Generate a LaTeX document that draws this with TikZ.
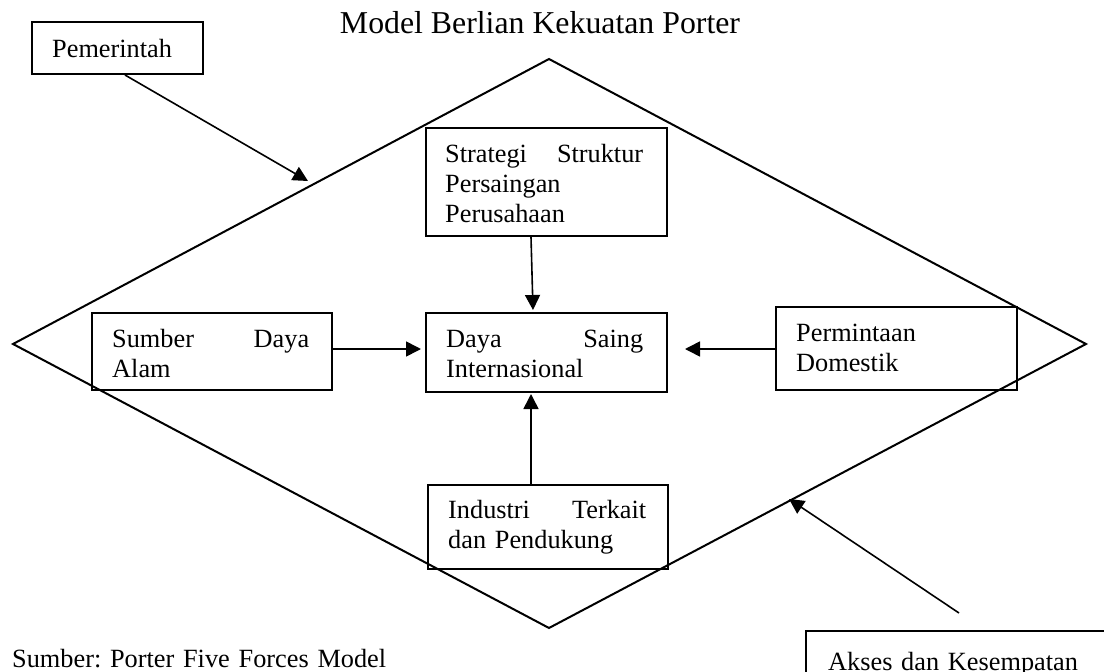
\documentclass[tikz,border=0pt]{standalone}
\usepackage{fontspec}
\setmainfont{Liberation Serif}
\usetikzlibrary{arrows.meta,calc}

\tikzset{
  box/.style={draw=black, line width=2pt, rectangle, inner sep=0pt, anchor=north west},
  txt/.style={inner sep=0pt, anchor=base west, text width=200pt, align=left,
              font=\fontsize{26.3}{30.3}\selectfont\frenchspacing},
  rim/.style={draw=black, line width=2pt, line join=miter},
  arr/.style={draw=black, line width=1.6pt, -{Triangle[length=15pt,width=15pt]}},
}

\begin{document}
\begin{tikzpicture}[x=1pt, y=-1pt]
  \useasboundingbox (0,0) rectangle (1104,672);
  \clip (0,0) rectangle (1104,672);
  \fill[white] (0,0) rectangle (1104,672);

  % title
  \node[inner sep=0pt, anchor=base, font=\fontsize{31.8}{36}\selectfont] (title) at (540,33)
    {Model Berlian Kekuatan Porter};

  % the diamond frame
  \coordinate (dl) at (13,344);
  \coordinate (dt) at (549,59);
  \coordinate (dr) at (1086,344);
  \coordinate (db) at (549,628);
  \draw[rim] (dl) -- (dt) -- (dr) -- (db) -- cycle;

  % boxes
  \node[box, minimum width=171, minimum height=52]  (pem)  at (31,21)   {};
  \node[box, minimum width=241, minimum height=108] (str)  at (425,127) {};
  \node[box, minimum width=240, minimum height=77]  (sda)  at (91,312)  {};
  \node[box, minimum width=241, minimum height=79]  (dsi)  at (425,312) {};
  \node[box, minimum width=241, minimum height=83]  (pdo)  at (775,306) {};
  \node[box, minimum width=240, minimum height=84]  (ind)  at (427,484) {};
  \node[box, minimum width=330, minimum height=90]  (aks)  at (805,630) {};

  % box texts
  \node[txt] (pem-t) at (52,57)  {Pemerintah};
  \node[txt] (str-t) at (445,162) {\hbox to 198pt{Strategi\hfill Struktur}\\Persaingan\\Perusahaan};
  \node[txt] (sda-t) at (112,347) {\hbox to 197pt{Sumber\hfill Daya}\\Alam};
  \node[txt] (dsi-t) at (446,347) {\hbox to 197pt{Daya\hfill Saing}\\Internasional};
  \node[txt] (pdo-t) at (796,341) {Permintaan\\Domestik};
  \node[txt] (ind-t) at (448,518) {\hbox to 198pt{Industri\hfill Terkait}\\dan Pendukung};
  \node[txt, text width=300pt] (aks-t) at (828,670) {Akses dan Kesempatan};

  % source note
  \node[txt, text width=400pt] (src) at (12,667) {Sumber: Porter Five Forces Model};

  % arrow end points on the frame
  \coordinate (pem-end) at (308,181);
  \coordinate (aks-start) at (959,613);
  \coordinate (aks-end) at (789,499);

  % connectors
  \draw[arr] ([xshift=94pt]pem.south west) -- (pem-end);
  \draw[arr] (aks-start) -- (aks-end);
  \draw[arr] ([xshift=106pt]str.south west) -- ([xshift=108pt,yshift=2pt]dsi.north west);
  \draw[arr] ([yshift=-37pt]sda.north east) -- ([xshift=-4pt,yshift=-37pt]dsi.north west);
  \draw[arr] ([yshift=-43pt]pdo.north west) -- ([xshift=17pt,yshift=-37pt]dsi.north east);
  \draw[arr] ([xshift=104pt]ind.north west) -- ([xshift=106pt,yshift=-1pt]dsi.south west);
\end{tikzpicture}
\end{document}
